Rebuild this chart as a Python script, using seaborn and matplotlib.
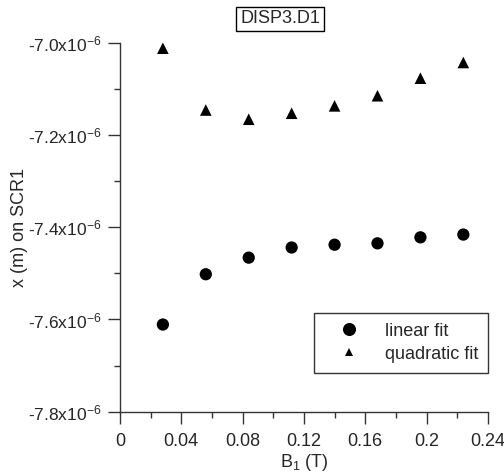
import matplotlib
matplotlib.use("Agg")
import matplotlib.pyplot as plt
import matplotlib.ticker as mticker
import seaborn as sns
import pandas as pd

b1 = [0.028, 0.056, 0.084, 0.112, 0.140, 0.168, 0.196, 0.224]
linear_fit = [-7.611, -7.502, -7.466, -7.444, -7.438, -7.435, -7.422, -7.416]
quadratic_fit = [-7.012, -7.146, -7.166, -7.153, -7.137, -7.115, -7.077, -7.043]
series_names = ["linear fit", "quadratic fit"]
x_ticks = [0, 0.04, 0.08, 0.12, 0.16, 0.2, 0.24]
y_ticks = [-7.8, -7.6, -7.4, -7.2, -7.0]

df = pd.DataFrame({
    "B1": b1 * 2,
    "x": [v * 1e-6 for v in linear_fit + quadratic_fit],
    "fit": [series_names[0]] * len(b1) + [series_names[1]] * len(b1),
})

sns.set_style("white")
plt.rcParams["font.family"] = ["Liberation Sans", "DejaVu Sans"]
plt.rcParams["mathtext.fontset"] = "custom"
plt.rcParams["mathtext.rm"] = "Liberation Sans"
plt.rcParams["mathtext.it"] = "Liberation Sans"
plt.rcParams["mathtext.default"] = "regular"

fig = plt.figure(figsize=(5.04, 4.74), dpi=100)
ax = fig.add_axes([0.238, 0.1314, 0.730, 0.7786])

sns.scatterplot(data=df, x="B1", y="x", hue="fit", style="fit", size="fit",
                markers={"linear fit": "o", "quadratic fit": "^"},
                palette={"linear fit": "black", "quadratic fit": "black"},
                sizes={"linear fit": 78, "quadratic fit": 70},
                edgecolor="none", linewidth=0, ax=ax, legend=True)

ax.set_xlim(0, 0.24)
ax.set_ylim(-7.8e-6, -7.0e-6)
ax.set_xticks(x_ticks)
ax.set_xticklabels(["0" if t == 0 else f"{t:g}" for t in x_ticks])
ax.set_yticks([t * 1e-6 for t in y_ticks])
ax.set_yticklabels([f"{t:.1f}x10$^{{-6}}$" for t in y_ticks])
ax.xaxis.set_minor_locator(mticker.MultipleLocator(0.02))
ax.yaxis.set_minor_locator(mticker.MultipleLocator(0.1e-6))

for s in ["top", "right"]:
    ax.spines[s].set_visible(False)
for s in ["left", "bottom"]:
    ax.spines[s].set_color("#333333")
    ax.spines[s].set_linewidth(1.0)

ax.tick_params(which="major", direction="out", length=8.5, width=1, color="#333333",
               labelsize=13, left=True, bottom=True)
ax.tick_params(axis="x", which="major", pad=7)
ax.tick_params(axis="y", which="major", pad=5, labelsize=12.5)
ax.tick_params(which="minor", direction="out", length=4, width=1, color="#333333",
               left=True, bottom=True)

ax.set_xlabel("B$_1$ (T)", fontsize=13, labelpad=1)
ax.set_ylabel("x (m) on SCR1", fontsize=13, labelpad=0)
ax.text(0.435, 1 + 23.7 / 369, "DISP3.D1", transform=ax.transAxes,
        ha="center", va="center", fontsize=13,
        bbox=dict(boxstyle="square,pad=0.2", facecolor="white", edgecolor="black", linewidth=1))

handles, labels = ax.get_legend_handles_labels()
leg = ax.legend(handles, labels, title=None, loc="lower right",
                bbox_to_anchor=(1.0, 0.1057), fontsize=13, frameon=True,
                fancybox=False, edgecolor="black", borderpad=0.55,
                handlelength=2.85, handletextpad=0.52, labelspacing=0.33,
                borderaxespad=0)
leg.get_frame().set_linewidth(1.0)
leg_sizes = {"linear fit": 9.4, "quadratic fit": 5.8}
for h, t in zip(leg.legend_handles, leg.get_texts()):
    ms = leg_sizes[t.get_text()]
    if hasattr(h, "set_markersize"):
        h.set_markersize(ms)
    elif hasattr(h, "set_sizes"):
        h.set_sizes([ms ** 2])

fig.savefig("out.png", dpi=100)
